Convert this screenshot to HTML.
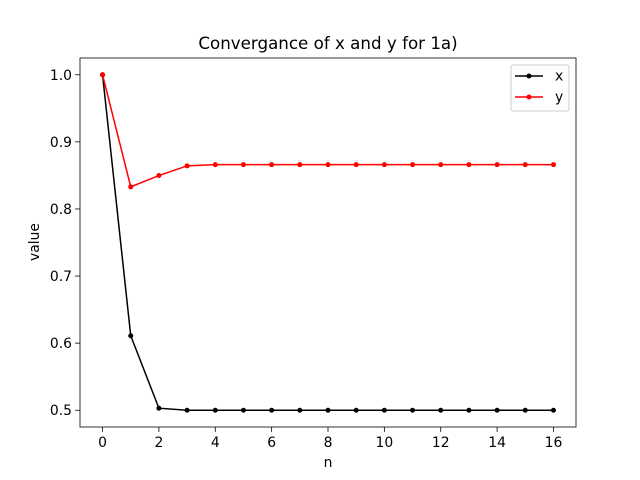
<!DOCTYPE html>
<html><head><meta charset="utf-8"><style>body{margin:0;background:#fff}svg{display:block;font-family:"DejaVu Sans","Liberation Sans",sans-serif}</style></head>
<body>
<svg id="chart" width="640" height="480"></svg>
<script>
const nValues=[0,1,2,3,4,5,6,7,8,9,10,11,12,13,14,15,16];
const xSeries=[1,0.611,0.503,0.4999,0.5,0.5,0.5,0.5,0.5,0.5,0.5,0.5,0.5,0.5,0.5,0.5,0.5];
const ySeries=[1,0.833,0.8498,0.8643,0.866,0.866,0.866,0.866,0.866,0.866,0.866,0.866,0.866,0.866,0.866,0.866,0.866];
const xTicks=[0,2,4,6,8,10,12,14,16];
const yTicks=[0.5,0.6,0.7,0.8,0.9,1.0];
const L=80,R=576,T=58,B=427,xmin=-0.8,xmax=16.8,ymin=0.475,ymax=1.025;
const sx=v=>L+(v-xmin)/(xmax-xmin)*(R-L);
const sy=v=>B-(v-ymin)/(ymax-ymin)*(B-T);
const svg=document.getElementById('chart');const NS='http://www.w3.org/2000/svg';
function mk(t,a,p){const e=document.createElementNS(NS,t);for(const k in a)e.setAttribute(k,a[k]);(p||svg).appendChild(e);return e;}
let e=mk('text',{x:328,y:49,'font-size':'16.7','text-anchor':'middle'});e.textContent='Convergance of x and y for 1a)';


xTicks.forEach(t=>{const g=mk('g',{});


mk('line',{x1:sx(t),x2:sx(t),y1:B,y2:B+4.9,stroke:'#000','stroke-width':0.8},g);
const tx=mk('text',{x:sx(t),y:B+20,'font-size':'13.9','text-anchor':'middle'},g);tx.textContent=t;});
yTicks.forEach(t=>{const g=mk('g',{});


mk('line',{x1:L-4.9,x2:L,y1:sy(t),y2:sy(t),stroke:'#000','stroke-width':0.8},g);
const tx=mk('text',{x:L-8,y:sy(t)+5,'font-size':'13.9','text-anchor':'end'},g);tx.textContent=t.toFixed(1);});
e=mk('text',{x:328,y:467,'font-size':'13.9','text-anchor':'middle'});e.textContent='n';


e=mk('text',{x:39,y:242,'font-size':'13.9','text-anchor':'middle',transform:'rotate(-90 39 242)'});e.textContent='value';


function series(vals,color,name){const g=mk('g',{});


mk('polyline',{points:vals.map((v,i)=>sx(nValues[i])+','+sy(v)).join(' '),fill:'none',stroke:color,'stroke-width':1.5},g);
vals.forEach((v,i)=>{const c=mk('circle',{cx:sx(nValues[i]),cy:sy(v),r:2.5,fill:color},g);

});}
series(xSeries,'#000','series-x');
series(ySeries,'#ff0000','series-y');
e=mk('rect',{x:L,y:T,width:R-L,height:B-T,fill:'none',stroke:'#000','stroke-width':0.8});


const lg=mk('g',{});


mk('rect',{x:511,y:65,width:58,height:46,rx:2,fill:'#fff',stroke:'#ccc','stroke-width':1},lg);
[['x','#000',76],['y','#ff0000',97]].forEach(([n,c,y])=>{const g=mk('g',{},lg);


mk('line',{x1:515,x2:543,y1:y,y2:y,stroke:c,'stroke-width':1.5},g);
mk('circle',{cx:529,cy:y,r:2.5,fill:c},g);
const t=mk('text',{x:555,y:y+4.5,'font-size':'13.9'},g);t.textContent=n;});
</script>
</body></html>
